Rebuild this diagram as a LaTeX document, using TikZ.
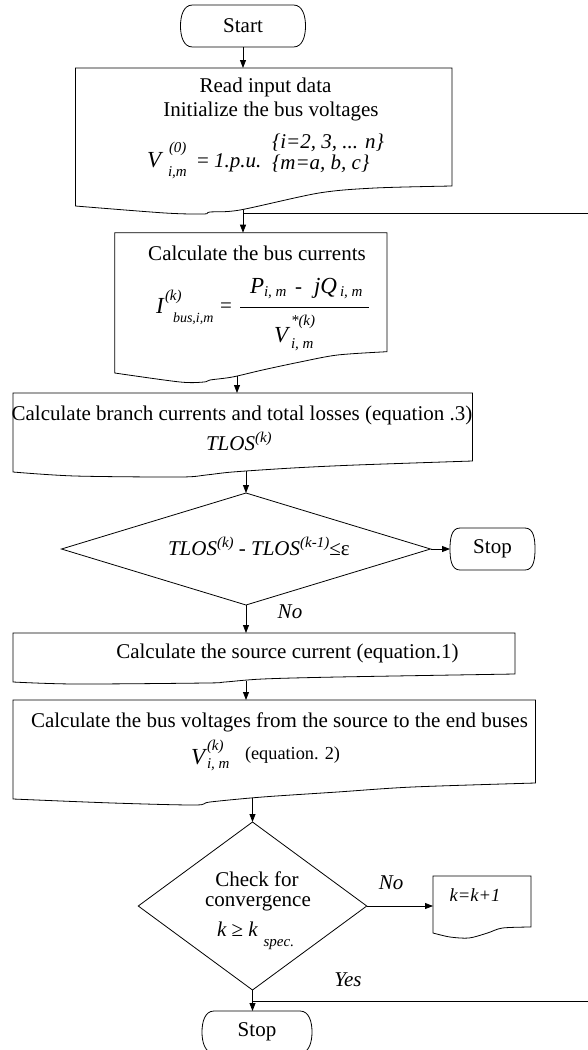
\documentclass[tikz,border=0pt]{standalone}
\usepackage{fontspec}
\setmainfont{Liberation Serif}
\usetikzlibrary{arrows.meta,shapes.geometric}
\newcommand{\msz}{\fontsize{21}{25}\selectfont}
\newcommand{\bsz}{\fontsize{23}{25}\selectfont}
\newcommand{\ssz}{\fontsize{15}{15}\selectfont}
\newcommand{\termpath}[2]{\draw[outline] ([xshift=#2]#1.north west) -- ([xshift=-#2]#1.north east) to[out=0,in=90] (#1.east) to[out=-90,in=0] ([xshift=-#2]#1.south east) -- ([xshift=#2]#1.south west) to[out=180,in=-90] (#1.west) to[out=90,in=180] ([xshift=#2]#1.north west) -- cycle;}
\begin{document}
\begin{tikzpicture}[x=1pt,y=-1pt,
  every node/.style={inner sep=0pt, outer sep=0pt, font=\msz},
  outline/.style={line width=0.8pt},
  arr/.style={line width=0.8pt,-{Triangle[length=8pt,width=6pt]}},
  plain/.style={line width=0.8pt},
  area/.style={rectangle, draw=none},
  term/.style={rectangle, draw=none, minimum height=42pt},
  dec/.style={diamond, draw, line width=0.8pt},
  itx/.style={font=\msz\itshape},
  big/.style={font=\bsz\itshape, anchor=base west},
  sml/.style={font=\ssz\itshape, anchor=base west},
  fb/.style={anchor=base west}]
\useasboundingbox (0,0) rectangle (588,1050);

% ---- terminals
\node[term, minimum width=125pt] (start) at (243,26) {Start};
\termpath{start}{12pt}
\node[term, minimum width=85pt] (stop2) at (492.5,549) {Stop};
\termpath{stop2}{10pt}
\node[term, minimum width=110pt] (stop3) at (257,1032) {\raisebox{-3pt}{Stop}};
\termpath{stop3}{12pt}

% ---- box areas (for names)
\node[area, minimum width=376.6pt, minimum height=118pt] (b1) at (263.7,127) {};
\node[area, minimum width=272.25pt, minimum height=119pt] (b2) at (250.9,292.2) {};
\node[area, minimum width=459.5pt, minimum height=68pt] (b3) at (242.75,427) {};
\node[area, minimum width=502pt, minimum height=41pt] (b4) at (264,653.5) {};
\node[area, minimum width=522.5pt, minimum height=83pt] (b5) at (274.25,741.5) {};
\node[area, minimum width=98pt, minimum height=51pt] (b6) at (482,901.5) {};

% ---- document outlines
\draw[outline] (75.4,68) -- (452,68) -- (452,186) -- plot[smooth] coordinates {(452,186) (375,188) (319,193) (240,210) (210,212) (204,214) (165,213) (75.4,206)} -- cycle;
\draw[outline] (114.75,232.7) -- (387,232.7) -- (387,351.7) -- plot[smooth] coordinates {(387,351.7) (337.5,355) (300,362) (262.5,370) (232.5,377) (210,380) (204,382) (180,382) (114.75,373)} -- cycle;
\draw[outline] (13,393) -- (472.5,393) -- (472.5,461) -- plot[smooth] coordinates {(472.5,461) (356,465) (292.5,468) (232.5,472) (206,475) (180,477) (75,476) (13,472)} -- cycle;
\draw[outline] (13,633) -- (515,633) -- (515,674) -- plot[smooth] coordinates {(515,674) (337.5,677) (262.5,679) (225,682) (206,683) (75,684) (13,682)} -- cycle;
\draw[outline] (13,700) -- (535.5,700) -- (535.5,783) -- plot[smooth] coordinates {(535.5,783) (412.5,787) (337.5,792) (262.5,797) (210,802) (195,805) (112.5,803) (13,799)} -- cycle;
\draw[outline] (433,876) -- (531,876) -- (531,927) -- plot[smooth] coordinates {(531,927) (502.5,928) (487.5,933) (469,938) (450,937) (433,933)} -- cycle;

% ---- decisions
\node[dec, minimum width=369pt, minimum height=112pt, aspect=3.3] (d1) at (246,549) {};
\node[dec, minimum width=228.5pt, minimum height=168pt, aspect=1.36] (d2) at (252.5,906) {};

% ---- texts box 1
\node (t1a) at (265.5,87) {Read input data};
\node (t1b) at (271,111) {Initialize the bus voltages};
\node[big] (f1v) at (147,167) {V};
\node[sml] (f1p) at (169,152.6) {(0)};
\node[sml] (f1s) at (168,176.4) {i,m};
\node[fb] (f1e) at (197,167) {= \itshape 1.p.u.};
\node[itx, fb] (f1c) at (272,148) {\{i=2, 3, ... n\}};
\node[itx, fb] (f1d) at (272,169) {\{m=a, b, c\}};

% ---- texts box 2
\node (t2a) at (257,253) {Calculate the bus currents};
\node[big] (f2i) at (156,313) {I};
\node[sml] (f2p) at (165,300.6) {(k)};
\node[sml, font=\fontsize{14}{14}\selectfont\itshape] (f2s) at (173,322) {bus,i,m};
\node[fb] (f2e) at (220,312) {=};
\node[big] (f2n1) at (250,293) {P};
\node[sml] (f2n2) at (264,296.5) {i, m};
\node[fb] (f2n3) at (295,293) {-};
\node[big] (f2n4) at (314,293) {jQ};
\node[sml] (f2n5) at (340,296.5) {i, m};
\draw[plain] (240,307) -- (369,307);
\node[big] (f2d1) at (274,342) {V};
\node[sml] (f2d2) at (291,325.6) {*(k)};
\node[sml] (f2d3) at (291,348.5) {i, m};

% ---- texts box 3
\node (t3a) at (242,415) {Calculate branch currents and total losses (equation .3)};
\node[itx, fb] (t3b) at (206,450) {TLOS\raisebox{8pt}{\ssz (k)}};

% ---- decision 1 text
\node[itx, fb] (d1t) at (168,555) {TLOS\raisebox{8pt}{\ssz (k)} - TLOS\raisebox{8pt}{\ssz (k-1)}\upshape ≤ε};

% ---- texts box 4, 5
\node (t4) at (287.4,653) {Calculate the source current (equation.1)};
\node (t5a) at (279.5,722) {Calculate the bus voltages from the source to the end buses};
\node[big] (f5v) at (191,764.5) {V};
\node[sml] (f5p) at (207,750.6) {(k)};
\node[sml] (f5s) at (207,768.4) {i, m};
\node[fb, font=\fontsize{18.3}{20}\selectfont] (f5e) at (245,759.5) {(equation. 2)};

% ---- decision 2 text
\node (d2a) at (257,879) {Check for};
\node (d2b) at (258,903) {convergence};
\node[itx, fb] (d2c) at (217,936) {k \upshape≥ \itshape k};
\node[sml] (d2d) at (263.6,946) {spec.};

% ---- box 6 text
\node[font=\fontsize{18.5}{20}\selectfont\itshape] (t6) at (475,895) {k=k+1};

% ---- labels
\node[itx] (no1) at (290,612) {No};
\node[itx] (no2) at (391,883) {No};
\node[itx] (yes) at (348,980) {Yes};

% ---- connection points
\coordinate (w1) at (243,210);
\coordinate (j1) at (243,213.5);
\coordinate (e1) at (588,213.5);
\coordinate (w2) at (237,376);
\coordinate (w3) at (246,471);
\coordinate (w4) at (246,680.5);
\coordinate (w5) at (252.5,798);
\coordinate (j2) at (252.5,1001);
\coordinate (e2) at (588,1001);

% ---- connectors
\draw[arr] (start) -- (start |- b1.north);
\draw[arr] (w1) -- (w1 |- b2.north);
\draw[plain] (j1) -- (e1);
\draw[arr] (w2) -- (w2 |- b3.north);
\draw[arr] (d1.north |- w3) -- (d1.north);
\draw[arr] (d1.east) -- (stop2.west |- d1.east);
\draw[arr] (d1.south) -- (d1.south |- b4.north);
\draw[arr] (w4) -- (w4 |- b5.north);
\draw[arr] (d2.north |- w5) -- (d2.north);
\draw[arr] (d2.east) -- (d2.east -| b6.west);
\draw[arr] (d2.south) -- (d2.south |- stop3.north);
\draw[plain] (j2) -- (e2);
\end{tikzpicture}
\end{document}
